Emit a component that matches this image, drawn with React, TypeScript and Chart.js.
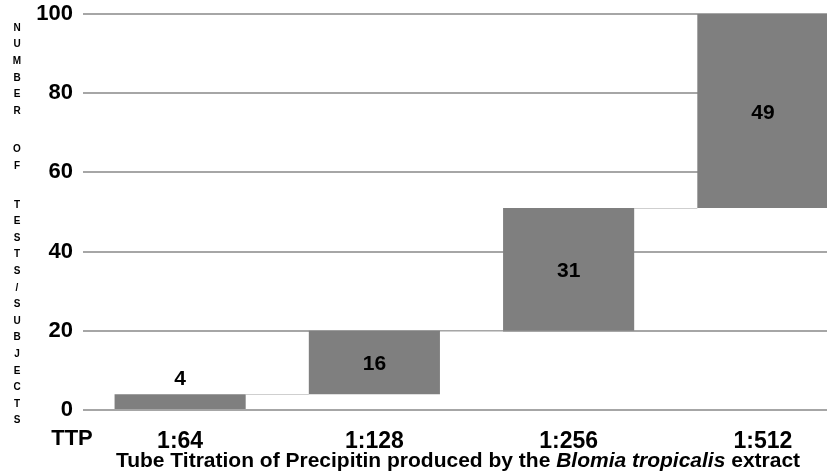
import React, { useEffect, useRef } from 'react';
import { Chart, registerables } from 'chart.js';

Chart.register(...registerables);

const categories = ['1:64', '1:128', '1:256', '1:512'];
const counts = [4, 16, 31, 49];
const yTicks = [0, 20, 40, 60, 80, 100];
const yTitleWords = ['NUMBER', 'OF', 'TESTS/SUBJECTS'];
const xAxisLead = 'TTP';
const xTitleParts = [
  { text: 'Tube Titration of Precipitin produced by the ', italic: false },
  { text: 'Blomia tropicalis', italic: true },
  { text: ' extract', italic: false },
];

const FONT = "'Liberation Sans', Arial, Helvetica, sans-serif";
const BAR_COLOR = '#7f7f7f';
const GRID_COLOR = '#a6a6a6';

function buildRanges(vals: number[]): [number, number][] {
  const out: [number, number][] = [];
  let start = 0;
  for (const v of vals) {
    out.push([start, start + v]);
    start += v;
  }
  return out;
}

const ranges = buildRanges(counts);

const decorPlugin = {
  id: 'decor',
  beforeDatasetsDraw(chart: any) {
    const { ctx } = chart;
    const meta = chart.getDatasetMeta(0);
    const yScale = chart.scales.y;
    ctx.save();
    ctx.strokeStyle = '#cfcfcf';
    ctx.lineWidth = 1;
    for (let i = 0; i < meta.data.length - 1; i++) {
      const a = meta.data[i];
      const b = meta.data[i + 1];
      const y = Math.round(yScale.getPixelForValue(ranges[i][1])) + 0.5;
      ctx.beginPath();
      ctx.moveTo(a.x + a.width / 2, y);
      ctx.lineTo(b.x - b.width / 2, y);
      ctx.stroke();
    }
    ctx.restore();
  },
  afterDatasetsDraw(chart: any) {
    const { ctx } = chart;
    const meta = chart.getDatasetMeta(0);
    ctx.save();
    ctx.fillStyle = '#000';
    ctx.font = `bold 21px ${FONT}`;
    ctx.textAlign = 'center';
    meta.data.forEach((bar: any, i: number) => {
      const top = Math.min(bar.y, bar.base);
      const h = Math.abs(bar.base - bar.y);
      if (h < 30) {
        ctx.textBaseline = 'bottom';
        ctx.fillText(String(counts[i]), bar.x, top - 4);
      } else {
        ctx.textBaseline = 'middle';
        ctx.fillText(String(counts[i]), bar.x, top + h / 2 + 2);
      }
    });
    ctx.restore();
  },
  afterDraw(chart: any) {
    const { ctx } = chart;
    ctx.save();
    ctx.fillStyle = '#000';
    // vertical stacked y-axis title
    ctx.font = `bold 10px ${FONT}`;
    ctx.textAlign = 'center';
    ctx.textBaseline = 'middle';
    let y = 28;
    const step = 16.6;
    const gap = 22;
    yTitleWords.forEach((w, wi) => {
      if (wi > 0) y += gap;
      for (const ch of w) {
        ctx.fillText(ch, 17, y);
        y += step;
      }
    });
    // TTP lead label
    ctx.font = `bold 22px ${FONT}`;
    ctx.textAlign = 'center';
    ctx.textBaseline = 'middle';
    ctx.fillText(xAxisLead, 72, 439);
    // x title with italic part
    const fonts = xTitleParts.map((p) => `${p.italic ? 'italic ' : ''}bold 21px ${FONT}`);
    let total = 0;
    const widths = xTitleParts.map((p, i) => {
      ctx.font = fonts[i];
      const w = ctx.measureText(p.text).width;
      total += w;
      return w;
    });
    let x = 458 - total / 2;
    ctx.textAlign = 'left';
    xTitleParts.forEach((p, i) => {
      ctx.font = fonts[i];
      ctx.fillText(p.text, x, 461);
      x += widths[i];
    });
    ctx.restore();
  },
};

export default function App() {
  const canvasRef = useRef<HTMLCanvasElement | null>(null);

  useEffect(() => {
    if (!canvasRef.current) return;
    const chart = new Chart(canvasRef.current, {
      type: 'bar',
      data: {
        labels: categories,
        datasets: [
          {
            data: ranges as any,
            backgroundColor: BAR_COLOR,
            borderWidth: 0,
            barPercentage: 0.675,
            categoryPercentage: 1,
          },
        ],
      },
      options: {
        animation: false,
        responsive: true,
        maintainAspectRatio: false,
        layout: { padding: { top: 14, left: 0, right: 0, bottom: 0 } },
        plugins: {
          legend: { display: false },
          tooltip: { enabled: false },
        },
        scales: {
          x: {
            grid: { display: false, drawTicks: false },
            border: { display: false },
            ticks: {
              color: '#000',
              font: { family: FONT, size: 23, weight: 'bold' },
              padding: 18,
              maxRotation: 0,
            },
            afterFit(scale: any) {
              scale.height = 61;
              scale.paddingLeft = 0;
              scale.paddingRight = 0;
            },
          },
          y: {
            min: yTicks[0],
            max: yTicks[yTicks.length - 1],
            grid: { color: GRID_COLOR, lineWidth: 2, drawTicks: false },
            border: { display: false },
            ticks: {
              stepSize: yTicks[1] - yTicks[0],
              color: '#000',
              font: { family: FONT, size: 22, weight: 'bold' },
              padding: 10,
            },
            afterFit(scale: any) {
              scale.width = 83;
              scale.paddingTop = 0;
              scale.paddingBottom = 0;
            },
          },
        },
      },
      plugins: [decorPlugin],
    });
    return () => chart.destroy();
  }, []);

  return (
    <div
      style={{
        position: 'fixed',
        left: 0,
        top: 0,
        width: 827,
        height: 471,
        overflow: 'hidden',
        background: '#fff',
      }}
    >
      <div style={{ position: 'relative', width: 860, height: 471 }}>
        <canvas ref={canvasRef} />
      </div>
    </div>
  );
}
